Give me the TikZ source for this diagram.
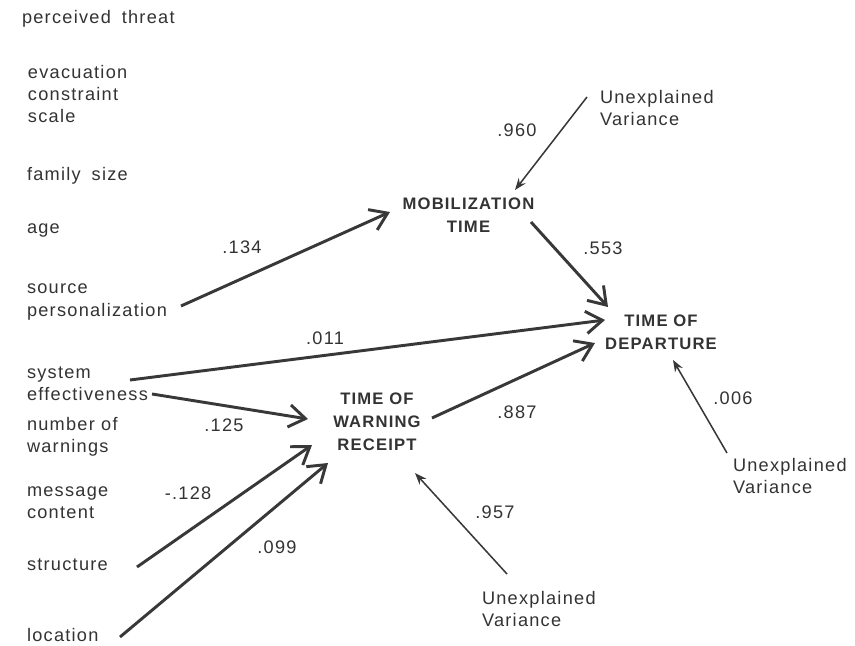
\documentclass[tikz,border=0pt]{standalone}
\usepackage{fontspec}
\setmainfont{Liberation Sans}[LetterSpace=7]
\usetikzlibrary{arrows.meta}
\definecolor{ink}{HTML}{333333}
\definecolor{lineink}{HTML}{383838}
\tikzset{
  lab/.style={anchor=west,align=left,inner sep=0pt,outer sep=0pt,text=ink,font=\fontsize{15.5}{18.8}\selectfont},
  var/.style={anchor=center,align=center,inner sep=0pt,outer sep=0pt,text=ink,font=\fontsize{14.2}{19.8}\selectfont\bfseries},
  num/.style={anchor=center,inner sep=0pt,text=ink,font=\fontsize{15.5}{18}\selectfont},
  bigarr/.style={draw=lineink,line width=2.5pt,-{Straight Barb[length=14pt,width=19pt]}},
  thinarr/.style={draw=lineink,line width=1.3pt,-{Stealth[length=10pt,width=7.5pt]}}
}
\begin{document}
\begin{tikzpicture}[x=0.03cm,y=-0.03cm]
\useasboundingbox[fill=white] (0,0) rectangle (855,646);
% left labels
\node[lab] (pt)  at (22,19)  {perceived\hspace{0.6em}threat};
\node[lab] (ecs) at (28,94)  {evacuation\\constraint\\scale};
\node[lab] (fs)  at (27,176) {family\hspace{0.6em}size};
\node[lab] (age) at (27,230) {age};
\node[lab] (sp)  at (27,302) {source\\personalization};
\node[lab] (se)  at (27,384) {system\\effectiveness};
\node[lab] (nw)  at (27,437) {number of\\warnings};
\node[lab] (mc)  at (27,503) {message\\content};
\node[lab] (st)  at (27,565) {structure};
\node[lab] (loc) at (27,635) {location};
% variables
\node[var] (mob) at (468.5,215.5) {MOBILIZATION\\TIME};
\node[var] (dep) at (661,332) {TIME OF\\DEPARTURE};
\node[var] (war) at (377,422) {TIME OF\\WARNING\\RECEIPT};
% unexplained variance
\node[lab] (uv1) at (600,108) {Unexplained\\Variance};
\node[lab] (uv2) at (733,476) {Unexplained\\Variance};
\node[lab] (uv3) at (482,609) {Unexplained\\Variance};
% connectors
\draw[bigarr] ([shift={(154,4)}]sp.west) -- ([shift={(-78.5,-3.5)}]mob.center);
\draw[bigarr] ([shift={(62.5,6.5)}]mob.center) -- ([shift={(-53,-25)}]dep.center);
\draw[bigarr] ([shift={(103,-4)}]se.west) -- ([shift={(-56,-12)}]dep.center);
\draw[bigarr] ([shift={(125,10)}]se.west) -- ([shift={(-69,-3)}]war.center);
\draw[bigarr] ([shift={(110,2)}]st.west) -- ([shift={(-65,23)}]war.center);
\draw[bigarr] ([shift={(93,2)}]loc.west) -- ([shift={(-49,41)}]war.center);
\draw[bigarr] ([shift={(55,-4)}]war.center) -- ([shift={(-66,11)}]dep.center);
\draw[thinarr] ([shift={(-13,-11)}]uv1.west) -- ([shift={(46.5,-25.5)}]mob.center);
\draw[thinarr] ([shift={(-6,-23)}]uv2.west) -- ([shift={(12,28)}]dep.center);
\draw[thinarr] ([shift={(25,-35)}]uv3.west) -- ([shift={(38,51)}]war.center);
% coefficients
\node[num] (c134) at (242,247) {.134};
\node[num] (c553) at (603,248) {.553};
\node[num] (c011) at (325,338) {.011};
\node[num] (c125) at (224,425) {.125};
\node[num] (c128) at (188,493) {-.128};
\node[num] (c099) at (277,547) {.099};
\node[num] (c887) at (517,412) {.887};
\node[num] (c960) at (517,130) {.960};
\node[num] (c006) at (733,398) {.006};
\node[num] (c957) at (495,512) {.957};
\end{tikzpicture}
\end{document}
